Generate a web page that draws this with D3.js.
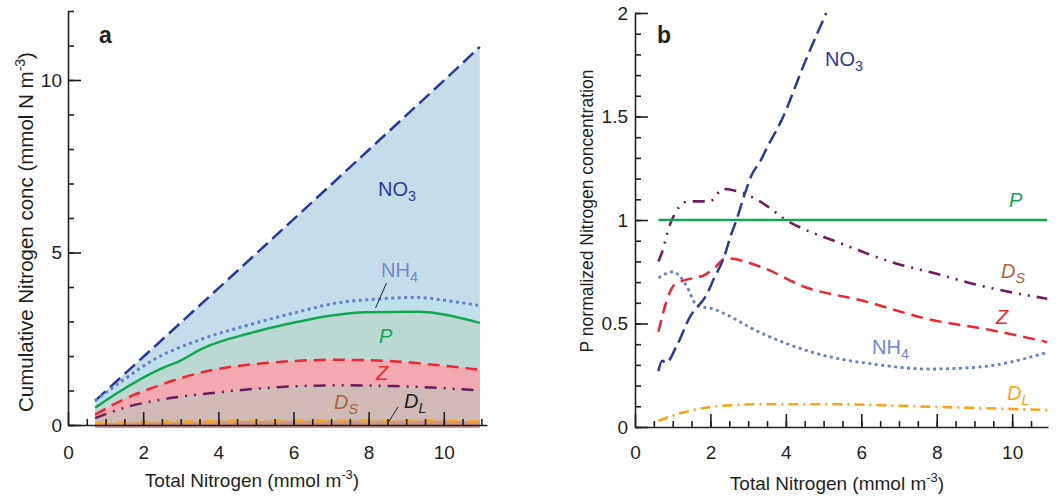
<!DOCTYPE html>
<html>
<head>
<meta charset="utf-8">
<script src="https://cdn.jsdelivr.net/npm/d3@7"></script>
<style>
  body { margin: 0; background: #fff; }
  svg text { font-family: "Liberation Sans", Arial, Helvetica, sans-serif; fill: #231f20; }
  .axis .domain, .axis line { stroke: #231f20; stroke-width: 1.6; }
</style>
</head>
<body>
<div id="chart"></div>
<script>
// --- DATA ---
// panel a: cumulative nitrogen, [total N, cumulative conc]
const aNO3 = [[0.72,0.7],[2,1.97],[4,3.96],[6,5.96],[8,7.97],[10,9.98],[10.96,10.96]];
const aNH4 = [[0.72,0.7],[1.4,1.25],[2.36,1.94],[3.51,2.47],[4.84,2.91],[6.17,3.29],[7.06,3.52],[8.21,3.65],[9.27,3.7],[10.1,3.6],[10.96,3.46]];
const aP   = [[0.72,0.5],[1.3,0.92],[2.45,1.62],[2.98,1.86],[3.6,2.23],[4.84,2.66],[5.9,2.94],[7.06,3.18],[7.94,3.27],[9.27,3.28],[10.96,2.96]];
const aZ   = [[0.72,0.3],[1.5,0.75],[2.3,1.1],[3.78,1.58],[5.11,1.78],[7.15,1.89],[8.65,1.85],[9.8,1.74],[10.96,1.6]];
const aDS  = [[0.72,0.2],[1.5,0.5],[2.45,0.73],[3.78,0.92],[5.11,1.06],[7.15,1.15],[8.65,1.13],[10.96,1.0]];
const aDL  = [[0.72,0.04],[2,0.08],[4,0.11],[6,0.12],[8,0.12],[10.96,0.11]];
const aFloor = -0.08;

// panel b: P normalized concentration
const bNO3 = [[0.62,0.27],[0.72,0.32],[0.82,0.31],[1.1,0.39],[1.45,0.53],[1.9,0.64],[2.1,0.72],[2.34,0.81],[2.55,0.93],[2.69,1.0],[2.9,1.12],[3.1,1.22],[3.31,1.28],[3.5,1.35],[3.88,1.48],[4.5,1.76],[5.07,2.0]];
const bNH4 = [[0.62,0.72],[1.01,0.75],[1.37,0.68],[1.63,0.59],[2.07,0.57],[3.39,0.45],[4.72,0.36],[6.48,0.3],[7.8,0.28],[9.13,0.29],[10.93,0.36]];
const bP   = [[0.62,1.0],[10.93,1.0]];
const bZ   = [[0.62,0.46],[0.84,0.61],[1.01,0.68],[1.19,0.7],[1.9,0.74],[2.12,0.77],[2.4,0.815],[3.39,0.77],[4.45,0.68],[6.04,0.61],[7.8,0.52],[9.39,0.47],[10.93,0.41]];
const bDS  = [[0.62,0.8],[0.71,0.84],[0.93,0.98],[1.41,1.09],[1.98,1.09],[2.34,1.15],[2.69,1.14],[3.31,1.09],[4.01,1.0],[5.42,0.89],[6.92,0.79],[8,0.74],[9,0.69],[10,0.65],[10.93,0.62]];
const bDL  = [[0.62,0.03],[1.19,0.066],[2.07,0.098],[3.39,0.11],[5.16,0.11],[7.8,0.098],[10.93,0.082]];

const aYMajor = [0, 5, 10];
const bYMajor = [0, 0.5, 1, 1.5, 2];
const xMajor = [0, 2, 4, 6, 8, 10];

// --- LAYOUT ---
const svg = d3.select("#chart").append("svg")
  .attr("width", 1063).attr("height", 500);

const xA = d3.scaleLinear().domain([0, 11.15]).range([68, 487]);
const yA = d3.scaleLinear().domain([0, 12]).range([425, 11]);
const xB = d3.scaleLinear().domain([0, 10.95]).range([635, 1048]);
const yB = d3.scaleLinear().domain([0, 2]).range([427, 13]);

const col = {
  NO3: "#2b3a99", NH4: "#6a7fcc", P: "#12a552", Z: "#ec2733",
  DS: "#6d1d5e", DL: "#f8a51d", DSlabel: "#b0613b"
};
const dash = {
  NO3: "14,6", NH4: "3,3.5", P: null, Z: "12,7", DS: "12,7,2,7,2,7", DL: "10,5,2,5"
};
const tickFont = 19;

function drawAxes(g, x, y, xMinor, yMinor, xMaj, yMaj, xPad, yPad, yFmt) {
  g.append("g").attr("class", "axis")
    .attr("transform", `translate(0,${y(0)})`)
    .call(d3.axisBottom(x).tickValues(xMinor).tickSize(-6).tickSizeOuter(0).tickFormat(""));
  g.append("g").attr("class", "axis")
    .attr("transform", `translate(0,${y(0)})`)
    .call(d3.axisBottom(x).tickValues(xMaj).tickSize(-13).tickSizeOuter(0).tickPadding(xPad))
    .call(s => s.select(".domain").remove())
    .selectAll("text").attr("font-size", tickFont);
  g.append("g").attr("class", "axis")
    .attr("transform", `translate(${x(0)},0)`)
    .call(d3.axisLeft(y).tickValues(yMinor).tickSize(-6).tickSizeOuter(0).tickFormat(""));
  g.append("g").attr("class", "axis")
    .attr("transform", `translate(${x(0)},0)`)
    .call(d3.axisLeft(y).tickValues(yMaj).tickSize(-13).tickSizeOuter(0).tickPadding(yPad).tickFormat(yFmt))
    .call(s => s.select(".domain").remove())
    .selectAll("text").attr("font-size", tickFont);
}

function drawLine(g, data, x, y, key, width, curve) {
  g.append("path").datum(data)
    .attr("d", d3.line().x(d => x(d[0])).y(d => y(d[1])).curve(curve || d3.curveMonotoneX))
    .attr("fill", "none")
    .attr("stroke", col[key])
    .attr("stroke-width", width)
    .attr("stroke-dasharray", dash[key]);
}

function label(g, x, y, main, sub, color, size, italic) {
  const t = g.append("text").attr("x", x).attr("y", y)
    .attr("font-size", size).style("fill", color)
    .attr("font-style", italic ? "italic" : "normal");
  t.append("tspan").text(main);
  if (sub) t.append("tspan").attr("dy", 5).attr("font-size", size * 0.72).text(sub);
}

// ===== Panel a =====
const gA = svg.append("g");
const fills = [
  [aNO3, "#c6dde9"], [aNH4, "#bfe1ea"], [aP, "#bcd8d3"],
  [aZ, "#f2a7b1"], [aDS, "#cfbab6"], [aDL, "#c8968c"]
];
fills.forEach(([data, c]) => {
  gA.append("path").datum(data)
    .attr("d", d3.area().x(d => xA(d[0])).y0(yA(aFloor)).y1(d => yA(d[1])).curve(d3.curveMonotoneX))
    .attr("fill", c);
});
drawLine(gA, aNO3, xA, yA, "NO3", 2.5, d3.curveLinear);
drawLine(gA, aNH4, xA, yA, "NH4", 3);
drawLine(gA, aP, xA, yA, "P", 2.5);
drawLine(gA, aZ, xA, yA, "Z", 2.5);
drawLine(gA, aDS, xA, yA, "DS", 2.5);
drawLine(gA, aDL, xA, yA, "DL", 2.6);

drawAxes(gA, xA, yA, d3.range(0.5, 11.01, 0.5), d3.range(0, 12.01, 1),
  xMajor, aYMajor, 21, 6, d3.format("d"));

gA.append("text").attr("x", 99).attr("y", 43).attr("font-size", 23).attr("font-weight", "bold").text("a");
label(gA, 378, 196, "NO", "3", col.NO3, 20);
label(gA, 381, 277, "NH", "4", "#7586cf", 20);
label(gA, 379, 343, "P", null, col.P, 20, true);
label(gA, 376, 380, "Z", null, col.Z, 20, true);
label(gA, 334, 409, "D", "S", col.DSlabel, 20, true);
label(gA, 404, 408, "D", "L", "#231f20", 20, true);
gA.append("line").attr("x1", 386.5).attr("y1", 283).attr("x2", 375.5).attr("y2", 308)
  .attr("stroke", "#231f20").attr("stroke-width", 1);
gA.append("line").attr("x1", 398).attr("y1", 407).attr("x2", 388).attr("y2", 423)
  .attr("stroke", "#231f20").attr("stroke-width", 1);

const xtA = gA.append("text").attr("x", 252).attr("y", 487).attr("font-size", 19).attr("text-anchor", "middle");
xtA.append("tspan").text("Total Nitrogen (mmol m");
xtA.append("tspan").attr("dy", -8).attr("font-size", 13).text("-3");
xtA.append("tspan").attr("dy", 8).text(")");

const ytA = gA.append("text").attr("transform", "translate(33,232) rotate(-90)")
  .attr("font-size", 20.5).attr("text-anchor", "middle");
ytA.append("tspan").text("Cumulative Nitrogen conc (mmol N m");
ytA.append("tspan").attr("dy", -8).attr("font-size", 14).text("-3");
ytA.append("tspan").attr("dy", 8).text(")");

// ===== Panel b =====
const gB = svg.append("g");
drawLine(gB, bDL, xB, yB, "DL", 2.6);
drawLine(gB, bNH4, xB, yB, "NH4", 2.8);
drawLine(gB, bZ, xB, yB, "Z", 2.5);
drawLine(gB, bDS, xB, yB, "DS", 2.6);
drawLine(gB, bP, xB, yB, "P", 2.6, d3.curveLinear);
drawLine(gB, bNO3, xB, yB, "NO3", 2.5);

drawAxes(gB, xB, yB, d3.range(0.5, 10.95, 0.5), d3.range(0, 2.001, 0.1),
  xMajor, bYMajor, 19, 7, d => d3.format("")(d));

gB.append("text").attr("x", 657).attr("y", 43).attr("font-size", 23).attr("font-weight", "bold").text("b");
label(gB, 825, 66, "NO", "3", col.NO3, 20);
label(gB, 1009, 207, "P", null, col.P, 20, true);
label(gB, 1001, 278, "D", "S", col.DSlabel, 20, true);
label(gB, 996, 324, "Z", null, col.Z, 20, true);
label(gB, 872, 354, "NH", "4", "#7586cf", 20);
label(gB, 1007, 400, "D", "L", col.DL, 20, true);

const xtB = gB.append("text").attr("x", 837).attr("y", 490).attr("font-size", 19).attr("text-anchor", "middle");
xtB.append("tspan").text("Total Nitrogen (mmol m");
xtB.append("tspan").attr("dy", -8).attr("font-size", 13).text("-3");
xtB.append("tspan").attr("dy", 8).text(")");

gB.append("text").attr("transform", "translate(593,211) rotate(-90)")
  .attr("font-size", 17.5).attr("text-anchor", "middle")
  .text("P normalized Nitrogen concentration");
</script>
</body>
</html>
